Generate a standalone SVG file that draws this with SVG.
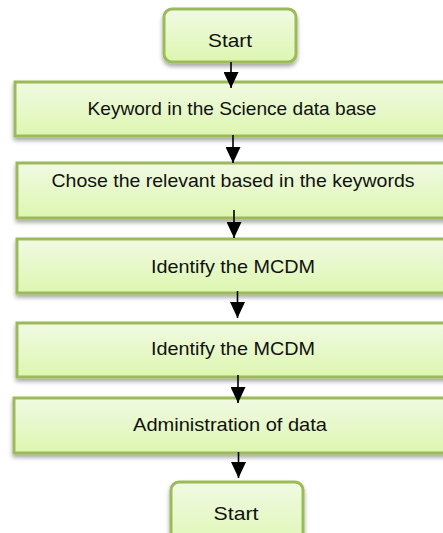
<svg xmlns="http://www.w3.org/2000/svg" width="443" height="533" viewBox="0 0 443 533">
<style>
.box{fill:url(#g);stroke:#9BBB59;stroke-width:3;filter:url(#sh)}
.t{font-family:"Liberation Sans",Arial,sans-serif;font-size:19px;fill:#111;text-anchor:middle}
.c{stroke:#000;stroke-width:1.6;fill:none;marker-end:url(#ah)}
</style>
<defs>
<linearGradient id="g" x1="0" y1="0" x2="0" y2="1">
<stop offset="0" stop-color="#F1FAE3"/>
<stop offset="1" stop-color="#DDF6B0"/>
</linearGradient>
<filter id="sh" x="-10%" y="-20%" width="120%" height="160%">
<feDropShadow dx="0" dy="3" stdDeviation="2" flood-color="#000" flood-opacity="0.35"/>
</filter>
<marker id="ah" markerUnits="userSpaceOnUse" markerWidth="16" markerHeight="15" viewBox="0 -7.5 16 15" refX="16" refY="0" orient="auto">
<path d="M0,-7.5 L16,0 L0,7.5 z" fill="#000"/>
</marker>
</defs>
<g id="start-top"><rect class="box" x="164" y="9" width="132" height="53" rx="8"/><text class="t" x="230" y="47" textLength="44" lengthAdjust="spacingAndGlyphs">Start</text></g>
<g id="keyword"><rect class="box" x="15" y="82" width="440" height="54"/><text class="t" x="232" y="115" textLength="289" lengthAdjust="spacingAndGlyphs">Keyword in the Science data base</text></g>
<g id="chose"><rect class="box" x="17" y="163" width="440" height="55"/><text class="t" x="233" y="187" textLength="363" lengthAdjust="spacingAndGlyphs">Chose the relevant based in the keywords</text></g>
<g id="identify1"><rect class="box" x="17" y="239" width="440" height="54"/><text class="t" x="233" y="273" textLength="164" lengthAdjust="spacingAndGlyphs">Identify the MCDM</text></g>
<g id="identify2"><rect class="box" x="17" y="323" width="440" height="54"/><text class="t" x="233" y="355" textLength="164" lengthAdjust="spacingAndGlyphs">Identify the MCDM</text></g>
<g id="admin"><rect class="box" x="14" y="398" width="440" height="55"/><text class="t" x="230" y="431" textLength="194" lengthAdjust="spacingAndGlyphs">Administration of data</text></g>
<g id="start-bottom"><rect class="box" x="171" y="482" width="132" height="70" rx="8"/><text class="t" x="236" y="520" textLength="45" lengthAdjust="spacingAndGlyphs">Start</text></g>
<g id="connectors">
<line class="c" x1="231" y1="62" x2="231" y2="88"/>
<line class="c" x1="233" y1="135" x2="233" y2="163"/>
<line class="c" x1="234" y1="210" x2="234" y2="238"/>
<line class="c" x1="237.5" y1="291" x2="237.5" y2="318"/>
<line class="c" x1="238" y1="375" x2="238" y2="403"/>
<line class="c" x1="238.5" y1="452" x2="238.5" y2="478"/>
</g>
</svg>
